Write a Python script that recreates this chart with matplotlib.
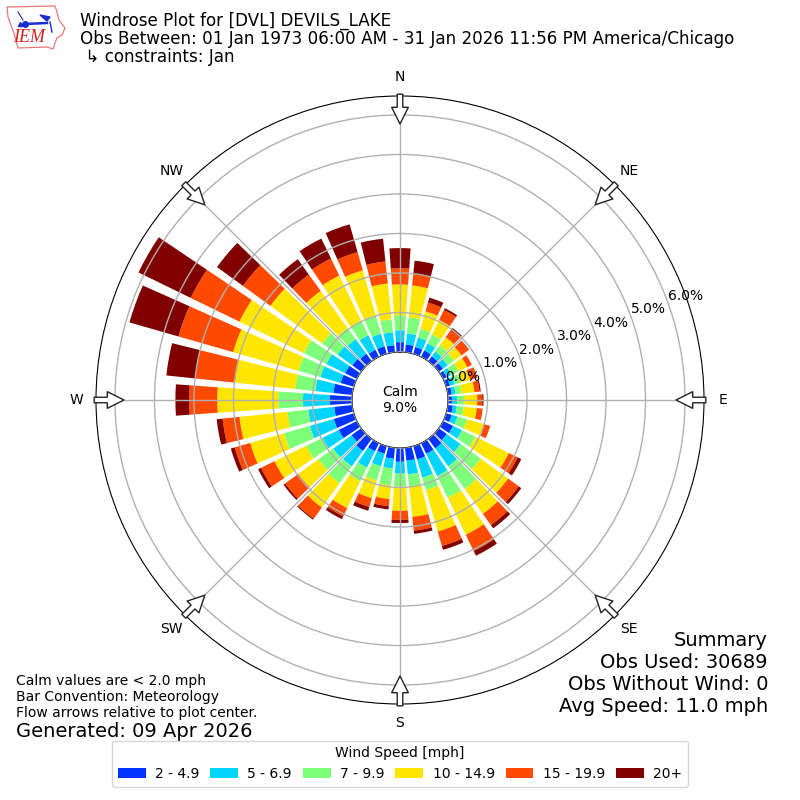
import numpy as np
import matplotlib
matplotlib.use("Agg")
from matplotlib import pyplot as plt
from matplotlib.patches import Polygon

# direction the bars sit at, degrees from north
directions = np.arange(0, 360, 10)

# percent of obs in each speed bin, per direction
speed_2_5 = [.25, .20, .18, .18, .15, .13, .10, .10, .10, .10, .13, .15,
             .28, .25, .30, .30, .35, .33, .35, .28, .20, .23, .38, .30,
             .51, .53, .46, .56, .48, .35, .33, .28, .23, .20, .20, .18]
speed_5_7 = [.30, .28, .25, .20, .15, .15, .13, .13, .10, .13, .10, .15,
             .25, .43, .56, .63, .48, .35, .30, .25, .33, .46, .48, .58,
             .46, .63, .66, .68, .46, .53, .53, .46, .46, .41, .33, .33]
speed_7_10 = [.38, .41, .23, .25, .20, .20, .20, .15, .15, .18, .18, .25,
              .38, .63, .71, .61, .33, .30, .33, .43, .38, .38, .53, .46,
              .46, .68, .53, .63, .51, .58, .63, .48, .35, .41, .48, .33]
speed_10_15 = [.78, .81, .46, .41, .25, .23, .25, .25, .33, .33, .33, .46,
               .94, .86, .78, 1.04, 1.09, .78, .61, .35, .46, .76, .76, .63,
               .89, .89, 1.22, 1.54, 1.54, 1.72, 1.82, 1.62, 1.16, 1.27, 1.19, .91]
speed_15_20 = [.41, .30, .23, .28, .25, .23, .13, .18, .13, .13, .15, .15,
               .25, .33, .35, .46, .38, .35, .23, .18, .23, .23, .35, .41,
               .38, .41, .43, .71, 1.01, 1.44, 1.37, .86, .51, .48, .48, .56]
speed_20_up = [.51, .33, .13, .05, .04, .01, 0, .01, .03, .03, 0, 0,
               .10, .08, .10, .13, .10, .08, .08, .08, .10, .08, .03, .05,
               .08, .10, .15, .35, .73, 1.29, 1.47, .81, .48, .56, .73, .58]

speed_bins = [speed_2_5, speed_5_7, speed_7_10, speed_10_15, speed_15_20, speed_20_up]
speed_labels = ["2 - 4.9", "5 - 6.9", "7 - 9.9", "10 - 14.9", "15 - 19.9", "20+"]
speed_colors = ["#0033ff", "#00d4ff", "#7dff7a", "#ffe600", "#ff4a00", "#800000"]

ring_ticks = [0, 1, 2, 3, 4, 5, 6]
compass_labels = ["N", "NE", "E", "SE", "S", "SW", "W", "NW"]

fig = plt.figure(figsize=(8, 8), dpi=100)
ax = fig.add_axes([0.12, 0.12, 0.76, 0.76], projection="polar")
ax.set_theta_zero_location("N")
ax.set_theta_direction(-1)
ax.set_axisbelow(False)

# stack the bins outward
base = np.zeros(len(directions))
for values, label, color in zip(speed_bins, speed_labels, speed_colors):
    ax.bar(np.deg2rad(directions), values, width=np.deg2rad(8), bottom=base,
           color=color, label=label, linewidth=0)
    base += np.array(values)

ax.set_rorigin(-1.215)
ax.set_rlim(0, 6.48)
ax.set_yticks(ring_ticks)
ax.set_yticklabels(["%.1f%%" % t for t in ring_ticks])
ax.set_rlabel_position(70)
ax.set_thetagrids(np.arange(0, 360, 45), compass_labels)
ax.tick_params(axis="x", pad=3.5)
ax.grid(True, color="#b0b0b0", linewidth=1)

ax.text(0.5, 0.5, "Calm\n9.0%", transform=ax.transAxes, ha="center", va="center",
        fontsize=10)

# flow arrows, tail at the rim and tip pointing to the center
for angle in np.deg2rad(np.arange(0, 360, 45)):
    tail = (0.5 + 0.503 * np.sin(angle), 0.5 + 0.503 * np.cos(angle))
    tip = (0.5 + 0.454 * np.sin(angle), 0.5 + 0.454 * np.cos(angle))
    ax.annotate("", xy=tip, xytext=tail, xycoords="axes fraction",
                textcoords="axes fraction", zorder=10, annotation_clip=False,
                arrowprops=dict(facecolor="white", edgecolor="#222222", width=4,
                                headwidth=12, headlength=12, shrink=0, linewidth=1))

fig.text(0.1, 0.985, "Windrose Plot for [DVL] DEVILS_LAKE\n"
         "Obs Between: 01 Jan 1973 06:00 AM - 31 Jan 2026 11:56 PM America/Chicago\n"
         " \u21b3 constraints: Jan", va="top", fontsize=12.02, linespacing=1.0)
fig.text(0.96, 0.1055, "Summary\nObs Used: 30689\nObs Without Wind: 0\nAvg Speed: 11.0 mph",
         ha="right", va="bottom", fontsize=14)
fig.text(0.02, 0.1, "Calm values are < 2.0 mph\nBar Convention: Meteorology\n"
         "Flow arrows relative to plot center.", va="bottom", fontsize=10)
fig.text(0.02, 0.0883, "Generated: 09 Apr 2026", va="center_baseline", fontsize=14)

handles, labels = ax.get_legend_handles_labels()
fig.legend(handles, labels, title="Wind Speed [mph]", ncol=6, loc="lower center",
           bbox_to_anchor=(0.5, 0.008), fontsize=10, title_fontsize=10,
           handletextpad=0.68, columnspacing=0.78)

# IEM logo, drawn in pixel coordinates
logo = fig.add_axes([0, 1 - 60 / 800, 70 / 800, 60 / 800])
logo.set_xlim(0, 70)
logo.set_ylim(60, 0)
logo.axis("off")
outline = [(7, 7), (55, 6), (57, 12), (59, 20), (65, 28), (62, 35), (57, 38), (55, 43),
           (53, 49), (47, 47), (18, 48), (14, 33), (12, 28), (8, 17)]
logo.add_patch(Polygon(outline, closed=True, fill=False, edgecolor="#e87878", linewidth=0.9))
logo.plot([25, 47], [24, 23], color="#1a2bd0", linewidth=1.8)
logo.plot([25], [24], "o", color="#1a2bd0", markersize=4)
logo.plot([18, 23], [12, 20], color="#1a2bd0", linewidth=0.8)
logo.plot([20], [24], "^", color="#1a2bd0", markersize=3)
logo.add_patch(Polygon([(40, 15), (50, 17), (47, 21)], closed=True, color="#1a2bd0"))
logo.plot([50, 52], [22, 32], color="#1a2bd0", linewidth=1)
logo.text(29, 38, "IEM", color="#d42020", ha="center", va="center", fontsize=13,
          style="italic", family="Liberation Serif")

fig.savefig("out.png", dpi=100)
